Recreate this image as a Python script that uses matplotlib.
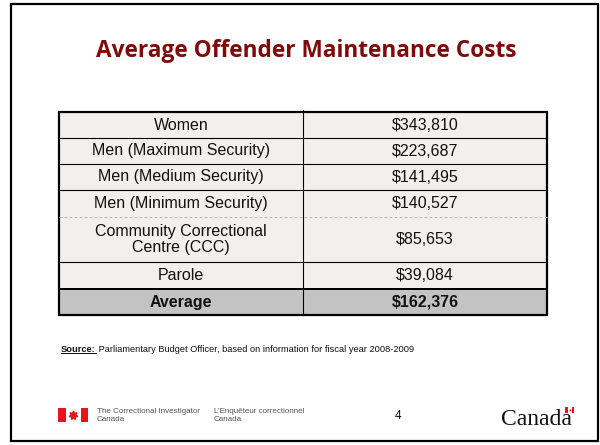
import matplotlib
matplotlib.use("Agg")
import matplotlib.pyplot as plt
from matplotlib.patches import Rectangle

# ---- data ----
title = "Average Offender Maintenance Costs"
categories = ["Women", "Men (Maximum Security)", "Men (Medium Security)",
              "Men (Minimum Security)", "Community Correctional\nCentre (CCC)", "Parole"]
costs = [343810, 223687, 141495, 140527, 85653, 39084]
average_label = "Average"
average_cost = 162376
source_label = "Source:"
source_text = " Parliamentary Budget Officer, based on information for fiscal year 2008-2009"
footer_en = "The Correctional Investigator\nCanada"
footer_fr = "L\u2019Enquêteur correctionnel\nCanada"
page_number = "4"
wordmark = "Canada"

# ---- layout (pixel geometry of the slide) ----
W, H = 600, 445
fig = plt.figure(figsize=(W / 100, H / 100), dpi=100)
ax = fig.add_axes([0, 0, 1, 1])
ax.set_xlim(0, W)
ax.set_ylim(H, 0)
ax.axis("off")
PX = 0.72  # points per pixel
fig.canvas.draw()
r = fig.canvas.get_renderer()

# slide frame
ax.add_patch(Rectangle((11, 4), 587, 437, fill=False, ec="black", lw=2.2 * PX))

# title (sized to span the same width as the reference)
tt = ax.text(306, 57, title, ha="center", va="baseline", fontsize=14,
             fontweight="bold", family=["Open Sans", "DejaVu Sans"], color="#7f0a0a")
w0 = tt.get_window_extent(renderer=r).width
tt.set_fontsize(14 * 422 / w0)

# table
tx0, tx1, tdiv = 59, 547, 303
row_h = [26, 26, 26, 27, 45, 27]
y = 112
edges = [y]
for h in row_h:
    y += h
    edges.append(y)
avg_top, avg_bot = edges[-1], edges[-1] + 26

ax.add_patch(Rectangle((tx0, edges[0]), tx1 - tx0, edges[-1] - edges[0],
                       fc="#f1f0ec", ec="none"))
ax.add_patch(Rectangle((tx0, avg_top), tx1 - tx0, avg_bot - avg_top,
                       fc="#c3c3c3", ec="none"))

fs = 11.5
for i, (cat, val) in enumerate(zip(categories, costs)):
    yc = (edges[i] + edges[i + 1]) / 2
    ax.text((tx0 + tdiv) / 2, yc, cat, ha="center", va="center", fontsize=fs,
            family="Liberation Sans", color="#111111", linespacing=1.05)
    ax.text((tdiv + tx1) / 2, yc, "${:,}".format(val), ha="center", va="center",
            fontsize=fs, family="Liberation Sans", color="#111111")

yc = (avg_top + avg_bot) / 2
ax.text((tx0 + tdiv) / 2, yc, average_label, ha="center", va="center", fontsize=fs,
        fontweight="bold", family="Liberation Sans", color="#111111")
ax.text((tdiv + tx1) / 2, yc, "${:,}".format(average_cost), ha="center", va="center",
        fontsize=fs, fontweight="bold", family="Liberation Sans", color="#111111")

# inner horizontal lines
for i, e in enumerate(edges[1:-1], start=1):
    if i == 4:
        ax.plot([tx0, tx1], [e, e], color="#b8b8b8", lw=1.0 * PX, ls=(0, (3, 2)))
    else:
        ax.plot([tx0, tx1], [e, e], color="black", lw=1.1 * PX)
ax.plot([tx0, tx1], [avg_top, avg_top], color="black", lw=2.0 * PX)
# vertical divider
ax.plot([tdiv, tdiv], [edges[0] - 2, avg_bot], color="black", lw=1.1 * PX)
# outer border
ax.add_patch(Rectangle((tx0, edges[0]), tx1 - tx0, avg_bot - edges[0], fill=False,
                       ec="black", lw=2.2 * PX))

# source line
t1 = ax.text(61, 351.5, source_label, ha="left", va="baseline", fontsize=6.7,
             fontweight="bold", family="Liberation Sans", color="#111111")
bb = t1.get_window_extent(renderer=r)
x_end = bb.x1
ax.plot([61, x_end], [353.3, 353.3], color="#111111", lw=1.0 * PX)
ax.text(x_end, 351.5, source_text, ha="left", va="baseline", fontsize=6.7,
        family="Liberation Sans", color="#111111")

# footer: government flag logo
ax.add_patch(Rectangle((58, 408), 7.5, 14, fc="#e8141c", ec="none"))
ax.add_patch(Rectangle((80.5, 408), 7.5, 14, fc="#e8141c", ec="none"))
ax.plot([73], [415], marker=(7, 1, 0), ms=6.5, color="#e8141c", mec="#e8141c")
ax.text(97, 415.5, footer_en, ha="left", va="center", fontsize=5.8,
        family="Liberation Sans", color="#555555", linespacing=1.05)
ax.text(214, 415.5, footer_fr, ha="left", va="center", fontsize=5.8,
        family="Liberation Sans", color="#555555", linespacing=1.05)
ax.text(398, 416, page_number, ha="center", va="center", fontsize=8.5,
        family="Liberation Sans", color="#111111")

# Canada wordmark
ax.text(501, 425, wordmark, ha="left", va="baseline", fontsize=17,
        family="Liberation Serif", color="#111111")
ax.add_patch(Rectangle((565, 407), 9, 6, fc="white", ec="none"))
ax.add_patch(Rectangle((565, 407), 2.5, 6, fc="#e8141c", ec="none"))
ax.add_patch(Rectangle((571.5, 407), 2.5, 6, fc="#e8141c", ec="none"))
ax.plot([569.5], [410], marker="s", ms=1.3, color="#e8141c", mec="none")

fig.savefig("out.png", dpi=100, facecolor="white")
